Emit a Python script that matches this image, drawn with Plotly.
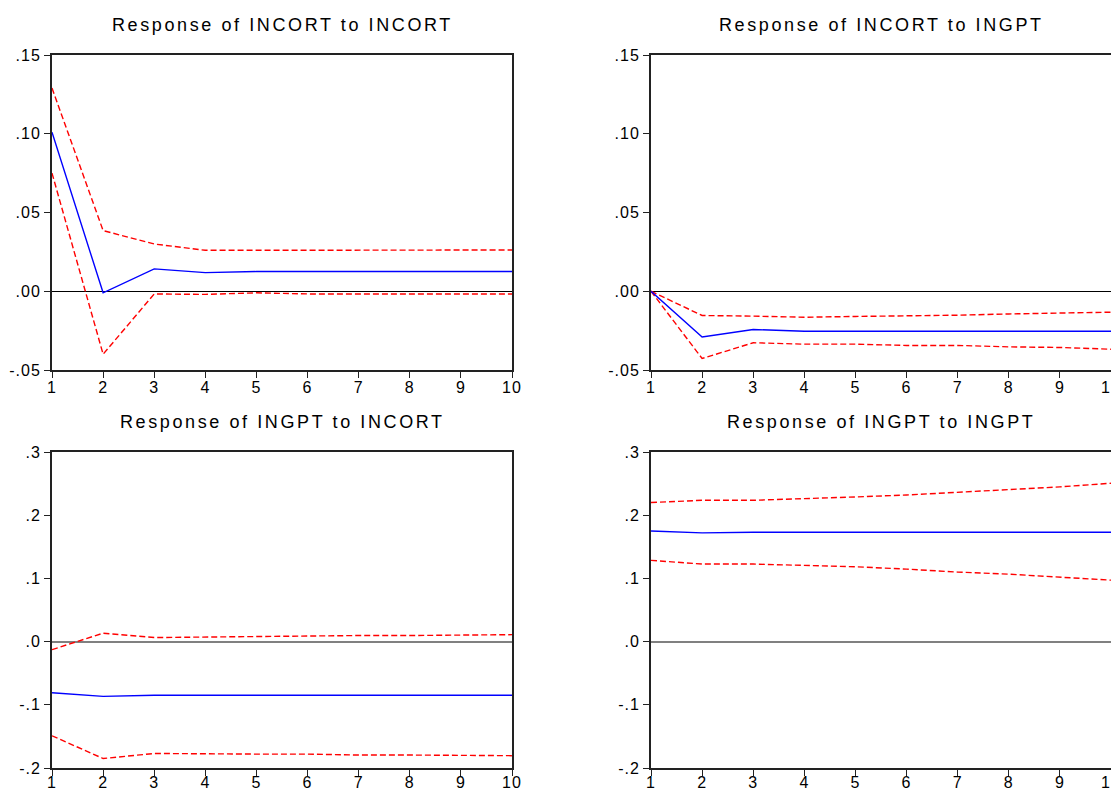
import plotly.graph_objects as go

W, H = 1119, 791
OFF = 8  # page body margin of the html page
periods = list(range(1, 11))

# Response of INCORT to INCORT
r11 = [0.101, -0.001, 0.0142, 0.0118, 0.0125, 0.0125, 0.0125, 0.0125, 0.0125, 0.0125]
r11_up = [0.129, 0.0385, 0.030, 0.026, 0.026, 0.026, 0.026, 0.0261, 0.0262, 0.0262]
r11_lo = [0.075, -0.040, -0.0017, -0.002, -0.001, -0.0017, -0.0017, -0.0017, -0.0017, -0.0017]

# Response of INCORT to INGPT
r12 = [0.0, -0.029, -0.0243, -0.0254, -0.0254, -0.0254, -0.0254, -0.0254, -0.0254, -0.0254]
r12_up = [0.0, -0.0154, -0.0158, -0.0165, -0.016, -0.0158, -0.0152, -0.0144, -0.014, -0.0133]
r12_lo = [0.0, -0.0427, -0.0327, -0.0336, -0.0336, -0.0344, -0.0344, -0.0353, -0.0357, -0.0368]

# Response of INGPT to INCORT
r21 = [-0.081, -0.0866, -0.085, -0.085, -0.085, -0.085, -0.085, -0.085, -0.085, -0.085]
r21_up = [-0.0127, 0.0133, 0.0064, 0.0074, 0.008, 0.0085, 0.0096, 0.0096, 0.0106, 0.011]
r21_lo = [-0.149, -0.185, -0.177, -0.178, -0.178, -0.178, -0.1795, -0.1795, -0.1805, -0.1805]

# Response of INGPT to INGPT
r22 = [0.175, 0.172, 0.173, 0.173, 0.173, 0.173, 0.173, 0.173, 0.173, 0.173]
r22_up = [0.220, 0.2236, 0.2236, 0.2257, 0.2289, 0.232, 0.2363, 0.240, 0.2448, 0.2506]
r22_lo = [0.1285, 0.1227, 0.1227, 0.121, 0.1184, 0.1147, 0.110, 0.1067, 0.102, 0.0972]

titles = ["Response of INCORT to INCORT", "Response of INCORT to INGPT",
          "Response of INGPT to INCORT", "Response of INGPT to INGPT"]

top_tickvals = [-0.05, 0.0, 0.05, 0.10, 0.15]
top_ticktext = ["-.05", ".00", ".05", ".10", ".15"]
bot_tickvals = [-0.2, -0.1, 0.0, 0.1, 0.2, 0.3]
bot_ticktext = ["-.2", "-.1", ".0", ".1", ".2", ".3"]
x_ticktext = [str(p) for p in periods]

panels = [
    (r11, r11_up, r11_lo, (52, 512), (55, 370), top_tickvals, top_ticktext, "black", 1, -4),
    (r12, r12_up, r12_lo, (651, 1111), (55, 370), top_tickvals, top_ticktext, "black", 1, -4),
    (r21, r21_up, r21_lo, (52, 512), (452, 768), bot_tickvals, bot_ticktext, "#808080", 2, -7),
    (r22, r22_up, r22_lo, (651, 1111), (452, 768), bot_tickvals, bot_ticktext, "#808080", 2, -7),
]

font_family = "Liberation Sans, Arial, sans-serif"


def spaced(s, px):
    return '<span style="letter-spacing:%spx">%s</span>' % (px, s)


def px_x(v):
    return (v - OFF) / W


def px_y(v):
    return 1 - (v - OFF) / H


fig = go.Figure()
for i, (mid, up, lo, xs, ys, tv, tt, zc, zw, xso) in enumerate(panels):
    n = "" if i == 0 else str(i + 1)
    xa, ya = "x" + n, "y" + n
    for vals, col, dash in ((up, "#FF0000", "6px,3px"), (lo, "#FF0000", "6px,3px"),
                            (mid, "#0000FF", "solid")):
        fig.add_trace(go.Scatter(x=periods, y=vals, mode="lines", xaxis=xa, yaxis=ya,
                                 line=dict(color=col, width=1.4, dash=dash),
                                 showlegend=False, hoverinfo="skip"))
    fig.layout["xaxis" + n] = dict(
        domain=[px_x(xs[0]), px_x(xs[1])], anchor=ya, range=[1, 10], automargin=False,
        tickvals=periods, ticktext=[spaced(t, 1) for t in x_ticktext],
        ticks="outside", ticklen=6, tickcolor="#222", tickwidth=1,
        ticklabelstandoff=xso,
        showline=True, linecolor="#222", linewidth=2, mirror=True,
        showgrid=False, zeroline=False,
        tickfont=dict(size=16, color="black", family=font_family))
    fig.layout["yaxis" + n] = dict(
        domain=[px_y(ys[1]), px_y(ys[0])], anchor=xa, range=[tv[0], tv[-1]],
        automargin=False,
        tickvals=tv, ticktext=[spaced(t, 1) for t in tt],
        ticks="outside", ticklen=6, tickcolor="#222", tickwidth=1,
        showline=True, linecolor="#222", linewidth=2, mirror=True,
        showgrid=False, zeroline=True, zerolinecolor=zc, zerolinewidth=zw,
        tickfont=dict(size=16, color="black", family=font_family))
    fig.add_annotation(text=spaced(titles[i], 2.6), xref="paper", yref="paper",
                       x=px_x((xs[0] + xs[1]) / 2), y=px_y(ys[0] - 30),
                       xanchor="center", yanchor="middle", showarrow=False,
                       font=dict(size=18, color="black", family=font_family))

fig.update_layout(width=W, height=H, margin=dict(l=0, r=0, t=0, b=0),
                  paper_bgcolor="white", plot_bgcolor="white",
                  font=dict(family=font_family, color="black"))

fig.write_html("out.html")
